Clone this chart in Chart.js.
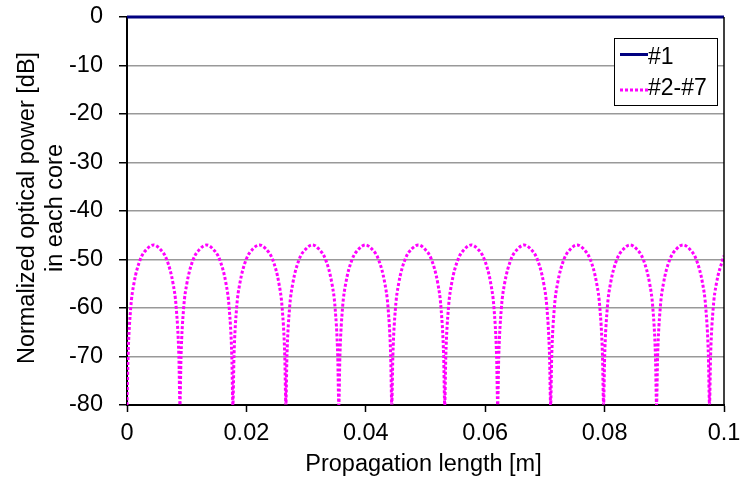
<!DOCTYPE html>
<html>
<head>
<meta charset="utf-8">
<script src="https://cdn.jsdelivr.net/npm/chart.js@4/dist/chart.umd.min.js"></script>
<style>
  html, body { margin: 0; padding: 0; background: #ffffff; }
  #wrap { position: relative; width: 741px; height: 487px; }
</style>
</head>
<body>
<div id="wrap"><canvas id="c" width="741" height="487"></canvas></div>
<script>
// ---- data ----
const seriesNames = ['#1', '#2-#7'];

const core1X = [0, 0.1];
const core1Y = [0, 0];

const outerX = [
  0, 0.00018, 0.00062, 0.00115, 0.00222, 0.00337, 0.00444, 0.0055, 0.00665, 0.00772, 0.00825, 0.00869,
  0.00887, 0.00905, 0.00949, 0.01002, 0.01109, 0.01224, 0.01331, 0.01437, 0.01552, 0.01659, 0.01712, 0.01756,
  0.01774, 0.01792, 0.01836, 0.01889, 0.01996, 0.02111, 0.02218, 0.02324, 0.02439, 0.02546, 0.02599, 0.02643,
  0.02661, 0.02679, 0.02723, 0.02776, 0.02883, 0.02998, 0.03105, 0.03211, 0.03326, 0.03433, 0.03486, 0.0353,
  0.03548, 0.03566, 0.0361, 0.03663, 0.0377, 0.03885, 0.03992, 0.04098, 0.04213, 0.0432, 0.04373, 0.04417,
  0.04435, 0.04453, 0.04497, 0.0455, 0.04657, 0.04772, 0.04879, 0.04985, 0.051, 0.05207, 0.0526, 0.05304,
  0.05322, 0.0534, 0.05384, 0.05437, 0.05544, 0.05659, 0.05766, 0.05872, 0.05987, 0.06094, 0.06147, 0.06191,
  0.06209, 0.06227, 0.06271, 0.06324, 0.06431, 0.06546, 0.06653, 0.06759, 0.06874, 0.06981, 0.07034, 0.07078,
  0.07096, 0.07114, 0.07158, 0.07211, 0.07318, 0.07433, 0.0754, 0.07646, 0.07761, 0.07868, 0.07921, 0.07965,
  0.07983, 0.08001, 0.08045, 0.08098, 0.08205, 0.0832, 0.08427, 0.08533, 0.08648, 0.08755, 0.08808, 0.08852,
  0.0887, 0.08888, 0.08932, 0.08985, 0.09092, 0.09207, 0.09314, 0.0942, 0.09535, 0.09642, 0.09695, 0.09739,
  0.09757, 0.09775, 0.09819, 0.09872, 0.09979, 0.1
];
const outerY = [
  -80, -70, -60, -55, -50, -47.8, -47, -47.8, -50, -55, -60, -70,
  -80, -70, -60, -55, -50, -47.8, -47, -47.8, -50, -55, -60, -70,
  -80, -70, -60, -55, -50, -47.8, -47, -47.8, -50, -55, -60, -70,
  -80, -70, -60, -55, -50, -47.8, -47, -47.8, -50, -55, -60, -70,
  -80, -70, -60, -55, -50, -47.8, -47, -47.8, -50, -55, -60, -70,
  -80, -70, -60, -55, -50, -47.8, -47, -47.8, -50, -55, -60, -70,
  -80, -70, -60, -55, -50, -47.8, -47, -47.8, -50, -55, -60, -70,
  -80, -70, -60, -55, -50, -47.8, -47, -47.8, -50, -55, -60, -70,
  -80, -70, -60, -55, -50, -47.8, -47, -47.8, -50, -55, -60, -70,
  -80, -70, -60, -55, -50, -47.8, -47, -47.8, -50, -55, -60, -70,
  -80, -70, -60, -55, -50, -47.8, -47, -47.8, -50, -55, -60, -70,
  -80, -70, -60, -55, -50, -49.2
];

const xTickLabels = ['0', '0.02', '0.04', '0.06', '0.08', '0.1'];
const yTickLabels = ['-80', '-70', '-60', '-50', '-40', '-30', '-20', '-10', '0'];
const xTitle = 'Propagation length [m]';
const yTitle = ['Normalized optical power [dB]', 'in each core'];

// ---- chart ----
const FONT = '"Liberation Sans", Arial, sans-serif';
const FS = 23.5;
const toPts = (xs, ys) => xs.map((x, i) => ({ x: x, y: ys[i] }));
const noPad = (s) => { s.paddingTop = 0; s.paddingBottom = 0; s.paddingLeft = 0; s.paddingRight = 0; };

const frameTitlesLegend = {
  id: 'frameTitlesLegend',
  afterDatasetsDraw(chart) {
    const ctx = chart.ctx;
    const a = chart.chartArea;
    ctx.save();
    // right frame of the plot area
    ctx.strokeStyle = '#000000';
    ctx.lineWidth = 1.5;
    ctx.beginPath();
    ctx.moveTo(a.right, a.top);
    ctx.lineTo(a.right, a.bottom);
    ctx.stroke();

    // axis titles
    ctx.fillStyle = '#000000';
    ctx.font = FS + 'px ' + FONT;
    ctx.textAlign = 'center';
    ctx.textBaseline = 'alphabetic';
    ctx.fillText(xTitle, 423.5, 471);
    ctx.save();
    ctx.translate(0, 208);
    ctx.rotate(-Math.PI / 2);
    ctx.fillText(yTitle[0], 0, 33.5);
    ctx.fillText(yTitle[1], 0, 61.5);
    ctx.restore();

    // legend box
    const bx = 614, by = 38, bw = 103, bh = 67;
    ctx.fillStyle = '#ffffff';
    ctx.fillRect(bx, by, bw, bh);
    ctx.lineWidth = 1;
    ctx.strokeStyle = '#000000';
    ctx.strokeRect(bx + 0.5, by + 0.5, bw, bh);
    const rows = [54.5, 90];
    const bases = [63.5, 95];
    chart.data.datasets.forEach((ds, i) => {
      ctx.save();
      ctx.strokeStyle = ds.borderColor;
      ctx.lineWidth = ds.borderWidth;
      ctx.setLineDash(ds.borderDash || []);
      ctx.lineCap = 'butt';
      ctx.beginPath();
      ctx.moveTo(620, rows[i]);
      ctx.lineTo(648, rows[i]);
      ctx.stroke();
      ctx.restore();
      ctx.fillStyle = '#000000';
      ctx.font = '23px ' + FONT;
      ctx.textBaseline = 'alphabetic';
      ctx.textAlign = 'left';
      ctx.fillText(ds.label, 648, bases[i]);
    });
    ctx.restore();
  }
};

new Chart(document.getElementById('c'), {
  type: 'line',
  data: {
    datasets: [
      {
        label: seriesNames[0],
        data: toPts(core1X, core1Y),
        borderColor: '#000080',
        borderWidth: 3,
        pointRadius: 0,
        clip: false,
        order: 0
      },
      {
        label: seriesNames[1],
        data: toPts(outerX, outerY),
        borderColor: '#ff00ff',
        borderWidth: 3,
        borderDash: [3, 2],
        pointRadius: 0,
        cubicInterpolationMode: 'monotone',
        order: 1
      }
    ]
  },
  options: {
    responsive: false,
    animation: false,
    devicePixelRatio: 1,
    layout: { padding: { left: 0, right: 17, top: 17, bottom: 0 } },
    plugins: {
      legend: { display: false },
      tooltip: { enabled: false }
    },
    scales: {
      x: {
        type: 'linear',
        min: 0, max: 0.1,
        afterFit(s) { s.height = 82; noPad(s); },
        afterBuildTicks(s) { s.ticks = xTickLabels.map(t => ({ value: parseFloat(t) })); },
        ticks: {
          autoSkip: false,
          maxRotation: 0,
          padding: 7,
          color: '#000000',
          font: { family: FONT, size: FS },
          callback: (v, i) => xTickLabels[i]
        },
        grid: { drawOnChartArea: false, drawTicks: true, tickLength: 7, tickColor: '#000000', tickWidth: 1.5 },
        border: { display: true, color: '#000000', width: 2 },
        title: { display: false }
      },
      y: {
        type: 'linear',
        min: -80, max: 0,
        afterFit(s) { s.width = 127; noPad(s); },
        afterBuildTicks(s) { s.ticks = yTickLabels.map(t => ({ value: parseFloat(t) })); },
        ticks: {
          autoSkip: false,
          padding: 16,
          color: '#000000',
          font: { family: FONT, size: FS },
          callback: (v, i) => yTickLabels[i]
        },
        grid: { color: '#999999', lineWidth: 1.5, drawTicks: true, tickLength: 8, tickColor: '#000000', tickWidth: 1.5 },
        border: { display: true, color: '#000000', width: 2 },
        title: { display: false }
      }
    }
  },
  plugins: [frameTitlesLegend]
});
</script>
</body>
</html>
